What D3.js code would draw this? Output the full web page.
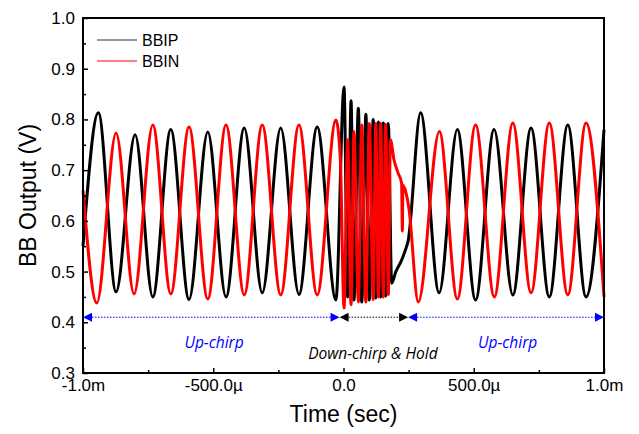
<!DOCTYPE html>
<html>
<head>
<meta charset="utf-8">
<script src="https://cdn.jsdelivr.net/npm/d3@7"></script>
<style>
  body { margin: 0; background: #fff; }
  text { font-family: "Liberation Sans", Arial, sans-serif; }
</style>
</head>
<body>
<svg width="639" height="434"></svg>
<script>
// time in microseconds, value in volts (extrema + a few shape points)
var bbipTime = [-1000, -941, -873, -800, -732, -663, -593, -521, -451, -381, -312, -241, -171, -101, -29,
  2, 16, 29, 40, 57, 70, 86, 99, 114, 124, 134, 143, 153, 162, 172,
  185, 201, 221, 236, 248,
  296, 367, 437, 507, 578, 650, 720, 790, 861, 931, 1000];
var bbipValue = [0.55, 0.813, 0.46, 0.77, 0.45, 0.78, 0.445, 0.775, 0.45, 0.783, 0.458, 0.783, 0.455, 0.785, 0.444,
  0.864, 0.45, 0.837, 0.444, 0.822, 0.44, 0.81, 0.444, 0.80, 0.448, 0.795, 0.45, 0.793, 0.452, 0.792,
  0.477, 0.50, 0.52, 0.54, 0.56,
  0.813, 0.458, 0.78, 0.444, 0.78, 0.454, 0.783, 0.45, 0.789, 0.45, 0.78];

var bbinTime = [-1000, -947, -873, -804, -732, -663, -593, -521, -451, -381, -312, -241, -171, -101, -29, -12,
  2, 16, 29, 40, 57, 70, 86, 99, 114, 124, 134, 143, 153, 162, 172, 180,
  194, 209, 223, 226, 228, 240, 251,
  287, 368, 437, 507, 579, 650, 720, 790, 861, 931, 1000];
var bbinValue = [0.66, 0.438, 0.773, 0.456, 0.789, 0.456, 0.785, 0.446, 0.789, 0.454, 0.789, 0.454, 0.789, 0.454, 0.799, 0.72,
  0.428, 0.76, 0.435, 0.776, 0.44, 0.789, 0.44, 0.792, 0.445, 0.792, 0.45, 0.792, 0.45, 0.79, 0.455, 0.76,
  0.72, 0.695, 0.675, 0.58, 0.67, 0.655, 0.625,
  0.44, 0.776, 0.446, 0.789, 0.45, 0.793, 0.458, 0.793, 0.454, 0.793, 0.45];

var xTicks = [-1000, -500, 0, 500, 1000];
var xTickLabels = ["-1.0m", "-500.0\u00b5", "0.0", "500.0\u00b5", "1.0m"];
var xMinor = [-750, -250, 250, 750];
var yTicks = [0.3, 0.4, 0.5, 0.6, 0.7, 0.8, 0.9, 1.0];
var yMinor = [0.35, 0.45, 0.55, 0.65, 0.75, 0.85, 0.95];

// region arrows and their labels
var arrowFrom = [-1000, -15, 248];
var arrowTo = [-15, 248, 1000];
var arrowColor = ["#0000ff", "#000000", "#0000ff"];
var arrowLevel = 0.41;
var regionNames = ["Up-chirp", "Down-chirp & Hold", "Up-chirp"];
var regionTime = [-497, 113, 630];
var regionValue = [0.360, 0.338, 0.360];

var svg = d3.select("svg");
var margin = {top: 18, right: 35, bottom: 61, left: 83};
var W = 639 - margin.left - margin.right;
var H = 434 - margin.top - margin.bottom;
var g = svg.append("g").attr("transform", "translate(" + margin.left + "," + margin.top + ")");

var x = d3.scaleLinear([-1000, 1000], [0, W]);
var y = d3.scaleLinear([0.3, 1.0], [H, 0]);

var line = d3.line()
  .x(function (d) { return x(d[0]); })
  .y(function (d) { return y(d[1]); })
  .curve(d3.curveMonotoneX);

var bbip = d3.zip(bbipTime, bbipValue);
var bbin = d3.zip(bbinTime, bbinValue);

g.append("path").datum(bbip).attr("d", line)
  .attr("fill", "none").attr("stroke", "#000").attr("stroke-width", 3);
g.append("path").datum(bbin).attr("d", line)
  .attr("fill", "none").attr("stroke", "#ff0000").attr("stroke-width", 3);

// arrows
arrowFrom.forEach(function (a, i) {
  var x0 = x(a), x1 = x(arrowTo[i]), yy = y(arrowLevel), c = arrowColor[i];
  g.append("line").attr("x1", x0 + 6).attr("x2", x1 - 6).attr("y1", yy).attr("y2", yy)
    .attr("stroke", c).attr("stroke-width", 1).attr("stroke-dasharray", "1.5,1.5");
  g.append("path").attr("d", "M" + x0 + "," + yy + "l9,-4.5v9z").attr("fill", c);
  g.append("path").attr("d", "M" + x1 + "," + yy + "l-9,-4.5v9z").attr("fill", c);
});

g.selectAll(".region").data(regionNames).enter().append("text")
  .attr("x", function (d, i) { return x(regionTime[i]); })
  .attr("y", function (d, i) { return y(regionValue[i]); })
  .attr("dy", "0.35em")
  .attr("text-anchor", "middle")
  .style("font-family", "'Open Sans', sans-serif")
  .style("font-style", "italic")
  .style("font-size", "15.5px")
  .attr("fill", function (d, i) { return arrowColor[i]; })
  .text(function (d) { return d; });

// axes
g.append("g").attr("transform", "translate(0," + H + ")")
  .call(d3.axisBottom(x).tickValues(xTicks).tickSizeInner(-5).tickSizeOuter(0).tickPadding(6)
    .tickFormat(function (d, i) { return xTickLabels[i]; }));
g.append("g").attr("transform", "translate(0," + H + ")")
  .call(d3.axisBottom(x).tickValues(xMinor).tickSizeInner(-3).tickSizeOuter(0).tickFormat(""));
g.append("g")
  .call(d3.axisLeft(y).tickValues(yTicks).tickSizeInner(-5).tickSizeOuter(0).tickPadding(8)
    .tickFormat(d3.format(".1f")));
g.append("g")
  .call(d3.axisLeft(y).tickValues(yMinor).tickSizeInner(-3).tickSizeOuter(0).tickFormat(""));

g.selectAll(".domain").remove();
g.selectAll(".tick line").attr("stroke", "#000").attr("stroke-width", 1.5);
g.selectAll(".tick text").style("font-size", "17px").style("font-family", "'Liberation Sans', Arial, sans-serif").attr("fill", "#000");

g.append("rect").attr("width", W).attr("height", H)
  .attr("fill", "none").attr("stroke", "#000").attr("stroke-width", 2);

// axis titles
svg.append("text")
  .attr("transform", "translate(36," + (margin.top + H / 2) + ") rotate(-90)")
  .attr("text-anchor", "middle").style("font-size", "23px")
  .text("BB Output (V)");
svg.append("text")
  .attr("x", margin.left + W / 2).attr("y", 422)
  .attr("text-anchor", "middle").style("font-size", "23px")
  .text("Time (sec)");

// legend
var legendNames = ["BBIP", "BBIN"];
var legendColors = ["#333", "#ff0000"];
var lg = svg.append("g");
legendNames.forEach(function (n, i) {
  var yy = 40 + i * 21;
  lg.append("line").attr("x1", 97).attr("x2", 137).attr("y1", yy).attr("y2", yy)
    .attr("stroke", legendColors[i]).attr("stroke-width", 1);
  lg.append("text").attr("x", 142).attr("y", yy + 6).style("font-size", "16px").text(n);
});
</script>
</body>
</html>
